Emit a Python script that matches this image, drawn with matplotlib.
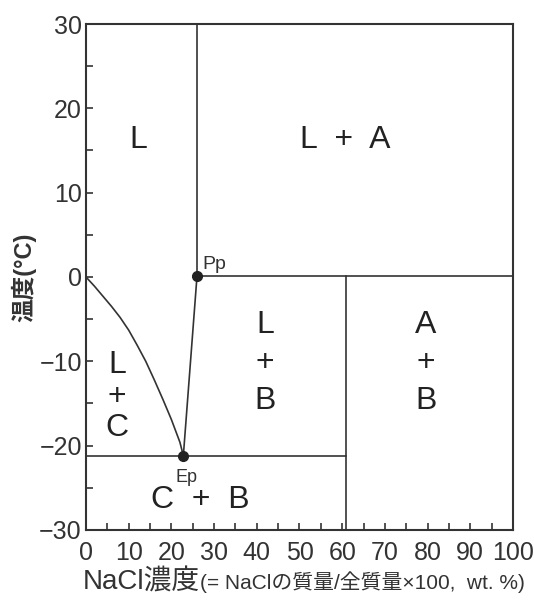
import matplotlib
matplotlib.use("Agg")
import matplotlib.pyplot as plt
from matplotlib.ticker import MultipleLocator

plt.rcParams['font.family'] = ['Liberation Sans', 'Noto Sans CJK JP', 'DejaVu Sans']

# Liquidus of ice (wt% NaCl, °C)
liq_x = [0, 2, 4, 6, 8, 10, 12, 14, 16, 18, 20, 22, 22.8]
liq_y = [0, -1.1, -2.3, -3.5, -4.8, -6.3, -8.1, -10.0, -12.2, -14.5, -16.9, -19.6, -21.2]
# special points
pp = (26.0, 0.1)
ep = (22.8, -21.2)
b_right = 61.0   # boundary B/A
# (text, x, y, linespacing)
region_labels = [
    ("L", 12.2, 16.3, 1.2), ("L  +  A", 60.7, 16.3, 1.2),
    ("L\n+\nB", 41.9, -10.2, 1.35), ("A\n+\nB", 79.6, -10.2, 1.35),
    ("L\n+\nC", 7.3, -14.2, 1.07), ("C  +  B", 26.7, -26.4, 1.2),
]

fig = plt.figure(figsize=(5.34, 6.0), dpi=100)
ax = fig.add_axes([0.161, 0.1167, 0.7997, 0.8433])
lc = '#333333'
lw = 1.2
ax.plot(liq_x, liq_y, color=lc, lw=lw)
ax.plot([ep[0], pp[0]], [ep[1], pp[1]], color=lc, lw=lw)
ax.plot([pp[0], pp[0]], [pp[1], 30], color=lc, lw=lw)
ax.plot([pp[0], 100], [pp[1], pp[1]], color=lc, lw=lw)
ax.plot([0, b_right], [ep[1], ep[1]], color=lc, lw=lw)
ax.plot([b_right, b_right], [pp[1], -30], color=lc, lw=lw)
ax.plot([pp[0], ep[0]], [pp[1], ep[1]], 'o', color='#222222', ms=7)
ax.text(pp[0] + 1.3, pp[1] + 1.4, "Pp", fontsize=14, color='#333333', va='center')
ax.text(ep[0] + 0.8, -23.8, "Ep", fontsize=13, color='#333333', ha='center', va='center')

for t, x, y, ls in region_labels:
    ax.text(x, y, t, fontsize=23, ha='center', va='center', linespacing=ls, color='#222222')

ax.set_xlim(0, 100)
ax.set_ylim(-30, 30)
ax.xaxis.set_major_locator(MultipleLocator(10))
ax.xaxis.set_minor_locator(MultipleLocator(5))
ax.yaxis.set_major_locator(MultipleLocator(10))
ax.yaxis.set_minor_locator(MultipleLocator(5))
ax.tick_params(which='both', direction='in', top=False, right=False, width=1.2, color='#333333')
ax.tick_params(which='major', length=5, labelsize=18, labelcolor='#333333')
ax.tick_params(which='minor', length=5)
ax.tick_params(axis='x', which='major', pad=8)
ax.tick_params(axis='y', which='major', pad=3)
for s in ax.spines.values():
    s.set_linewidth(1.5)
    s.set_color('#333333')
ax.set_ylabel("温度(°C)", fontsize=17, fontweight='bold', labelpad=2, color='#333333')

fig.text(0.375, 0.018, "NaCl濃度", fontsize=20, ha='right', va='baseline', color='#333333')
fig.text(0.375, 0.018, "(= NaClの質量/全質量×100,  wt. %)", fontsize=15, ha='left', va='baseline', color='#333333')

fig.savefig("out.png", dpi=100)
